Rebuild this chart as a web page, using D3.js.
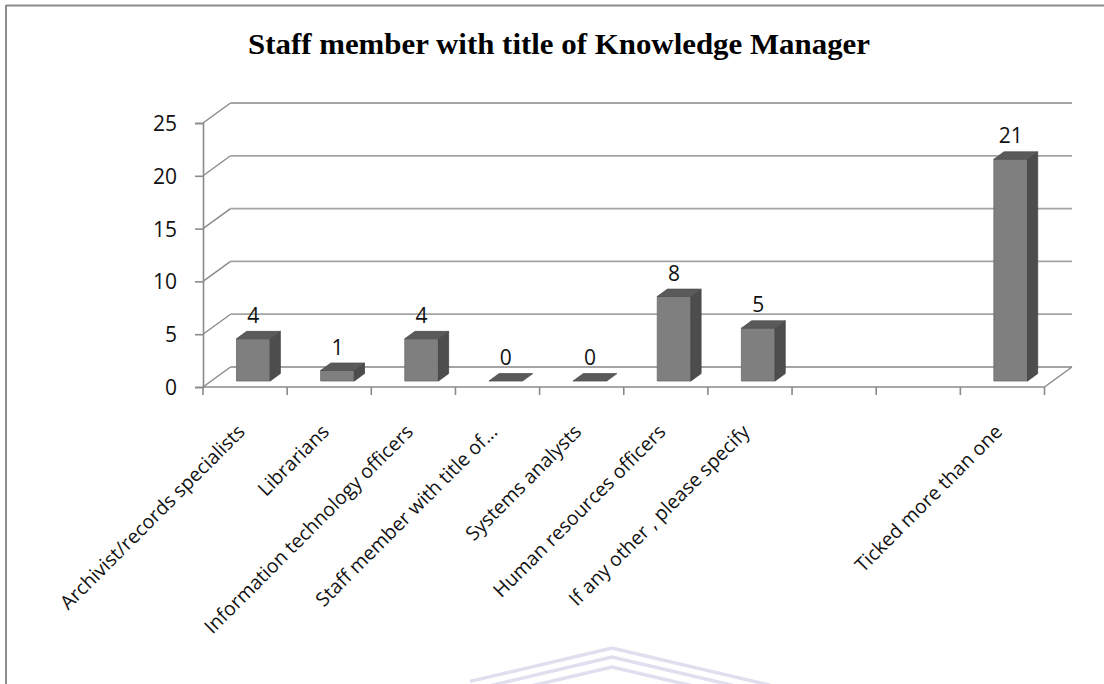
<!DOCTYPE html>
<html>
<head>
<meta charset="utf-8">
<script src="https://cdn.jsdelivr.net/npm/d3@7"></script>
<style>
  html, body { margin: 0; padding: 0; background: #fff; }
  svg { display: block; }
</style>
</head>
<body>
<div id="chart"></div>
<script>
// ---- data ----
const categories = [
  "Archivist/records specialists",
  "Librarians",
  "Information technology officers",
  "Staff member with title of...",
  "Systems analysts",
  "Human resources officers",
  "If any other , please specify",
  "",
  "",
  "Ticked more than one"
];
const values = [4, 1, 4, 0, 0, 8, 5, null, null, 21];
const yTicks = [0, 5, 10, 15, 20, 25];
const title = "Staff member with title of Knowledge Manager";

(function () {
// ---- layout ----
const W = 1104, H = 684;
const svg = d3.select("#chart").append("svg").attr("width", W).attr("height", H);
svg.append("rect").attr("width", W).attr("height", H).attr("fill", "#fff");

// frame
svg.append("line").attr("x1", 6).attr("x2", W).attr("y1", 5.5).attr("y2", 5.5)
  .attr("stroke", "#8c8c8c").attr("stroke-width", 2);
svg.append("line").attr("x1", 6).attr("x2", 6).attr("y1", 5).attr("y2", H)
  .attr("stroke", "#8c8c8c").attr("stroke-width", 2);

// watermark chevrons
const wm = svg.append("g").attr("opacity", 0.45);
[0, 9, 19].forEach(off => {
  wm.append("polyline")
    .attr("points", [[470, 648 + off + 142 * 0.235], [612, 648 + off], [770, 648 + off + 158 * 0.235]].map(p => p.join(",")).join(" "))
    .attr("fill", "none").attr("stroke", "#b9b9dd").attr("stroke-width", 3.5);
});

// title
svg.append("text")
  .attr("x", 559).attr("y", 54)
  .attr("text-anchor", "middle")
  .attr("font-family", "'Liberation Serif', 'Times New Roman', serif")
  .attr("font-weight", "bold")
  .attr("font-size", 30)
  .attr("textLength", 622)
  .attr("lengthAdjust", "spacingAndGlyphs")
  .attr("fill", "#000")
  .text(title);

// scales
const x0 = 203, x1 = 1044.5;
const x = d3.scaleBand().domain(d3.range(categories.length)).range([x0, x1])
  .paddingInner(0.6).paddingOuter(0.3);
const y = d3.scaleLinear().domain([0, 25]).range([387, 123]);
const DX = 27.5, DY = -20; // depth of the floor
const P = (px, py, z) => [px + DX * z, py + DY * z];

const gridColor = "#a4a4a4";
const axisColor = "#8a8a8a";

// back wall gridlines + left wall diagonals
const g = svg.append("g");
yTicks.forEach(v => {
  const [bx, by] = P(x0, y(v), 1);
  const [ex, ey] = P(x1, y(v), 1);
  g.append("line").attr("x1", bx).attr("y1", by).attr("x2", ex).attr("y2", ey)
    .attr("stroke", gridColor).attr("stroke-width", 1.8);
  g.append("line").attr("x1", x0).attr("y1", y(v)).attr("x2", bx).attr("y2", by)
    .attr("stroke", axisColor).attr("stroke-width", 1.4);
});
// floor right edge
{
  const [ex, ey] = P(x1, y(0), 1);
  g.append("line").attr("x1", x1).attr("y1", y(0)).attr("x2", ex).attr("y2", ey)
    .attr("stroke", axisColor).attr("stroke-width", 1.4);
}

// y axis (front)
const yAxis = d3.axisLeft(y).tickValues(yTicks).tickSize(8).tickPadding(18);
const ya = svg.append("g").attr("transform", `translate(${x0},0)`).call(yAxis);
ya.select(".domain").attr("stroke", axisColor).attr("stroke-width", 1.6);
ya.selectAll(".tick line").attr("stroke", axisColor).attr("stroke-width", 1.6);
ya.selectAll(".tick text")
  .attr("font-family", "'Open Sans', sans-serif").attr("font-size", 21)
  .attr("fill", "#111").attr("dy", "0.36em");

// x axis (front floor edge)
const step = x.step();
const tickPos = d3.range(categories.length + 1).map(i => x0 + i * step);
const xa = svg.append("g");
xa.append("line").attr("x1", x0).attr("x2", x1).attr("y1", y(0)).attr("y2", y(0))
  .attr("stroke", axisColor).attr("stroke-width", 1.6);
xa.selectAll("line.tk").data(tickPos).join("line").attr("class", "tk")
  .attr("x1", d => d).attr("x2", d => d).attr("y1", y(0)).attr("y2", y(0) + 8)
  .attr("stroke", axisColor).attr("stroke-width", 1.6);

// x labels
svg.append("g").selectAll("text").data(categories.map((c, i) => ({ c, i })))
  .join("text")
  .attr("transform", d => `translate(${x(d.i) + x.bandwidth() / 2 + 1},${y(0) + 46}) rotate(-45)`)
  .attr("text-anchor", "end")
  .attr("font-family", "'Open Sans', sans-serif")
  .attr("font-size", 19.5)
  .attr("fill", "#111")
  .text(d => d.c);

// bars (3D)
const zf = 0.3, zb = 0.67;
const bw = x.bandwidth();
const bars = svg.append("g");
const cFront = "#7f7f7f", cSide = "#4d4d4d", cTop = "#5a5a5a";
values.forEach((v, i) => {
  if (v === null) return;
  const xl = x(i), xr = x(i) + bw;
  const F = (px, val, z) => P(px, y(val), z);
  const poly = pts => pts.map(p => p.join(",")).join(" ");
  if (v > 0) {
    bars.append("polygon")
      .attr("points", poly([F(xl, 0, zf), F(xr, 0, zf), F(xr, v, zf), F(xl, v, zf)]))
      .attr("fill", cFront).attr("stroke", "#6a6a6a").attr("stroke-width", 0.8);
    bars.append("polygon")
      .attr("points", poly([F(xr, 0, zf), F(xr, 0, zb), F(xr, v, zb), F(xr, v, zf)]))
      .attr("fill", cSide).attr("stroke", "#444").attr("stroke-width", 0.8);
  }
  bars.append("polygon")
    .attr("points", poly([F(xl, v, zf), F(xr, v, zf), F(xr, v, zb), F(xl, v, zb)]))
    .attr("fill", cTop).attr("stroke", "#505050").attr("stroke-width", 0.8);
  const [lx] = F(xl + bw / 2, v, zf);
  const [, ly] = F(xl, v, zb);
  bars.append("text")
    .attr("x", lx).attr("y", ly - 8.5)
    .attr("text-anchor", "middle")
    .attr("font-family", "'Open Sans', sans-serif")
    .attr("font-size", 21)
    .attr("fill", "#111")
    .text(v);
});
})();
</script>
</body>
</html>
